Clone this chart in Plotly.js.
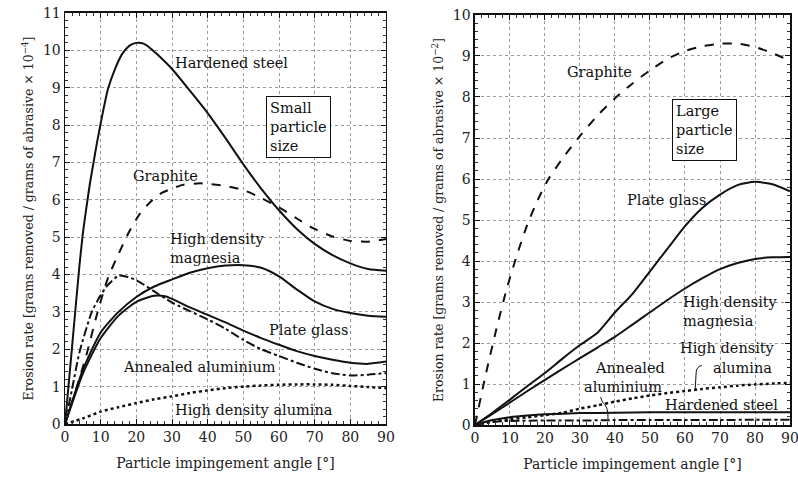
<!DOCTYPE html>
<html>
<head>
<meta charset="utf-8">
<script src="https://cdn.plot.ly/plotly-3.0.1.min.js"></script>
<style>html,body{margin:0;padding:0;background:#fff;}#chart{width:798px;height:479px;}</style>
</head>
<body>
<div id="chart"></div>
<script>
// ---- Left panel: small particle size (x10^-4) ----
const smallSteelX = [0,2,4,5,6,7,8,9,10,12,14,16,18,20,22,24,26,30,35,40,45,50,55,60,65,70,75,80,85,90];
const smallSteelY = [0,2.1,4.2,5.1,5.8,6.45,7.0,7.55,8.05,8.95,9.5,9.9,10.12,10.2,10.18,10.05,9.88,9.5,8.92,8.32,7.65,6.95,6.3,5.72,5.22,4.82,4.52,4.3,4.15,4.1];

const smallGraphiteX = [0,3,6,9,12,15,18,21,24,27,30,33,38,45,50,55,60,65,70,75,80,85,90];
const smallGraphiteY = [0,0.9,1.85,2.95,3.9,4.55,5.15,5.63,5.95,6.18,6.3,6.4,6.44,6.37,6.26,6.05,5.8,5.5,5.22,5.02,4.9,4.88,4.95];

const smallMagnesiaX = [0,5,10,15,20,25,30,35,40,45,50,55,60,65,70,75,80,85,90];
const smallMagnesiaY = [0,1.45,2.45,3.0,3.4,3.68,3.87,4.05,4.17,4.24,4.25,4.18,3.95,3.6,3.28,3.08,2.97,2.9,2.87];

const smallGlassX = [0,5,10,15,20,25,28,30,35,40,45,50,55,60,65,70,75,80,85,90];
const smallGlassY = [0,1.35,2.3,2.9,3.27,3.43,3.42,3.35,3.12,2.92,2.72,2.5,2.3,2.12,1.95,1.82,1.72,1.64,1.61,1.67];

const smallAluminiumX = [0,2,4,7.5,10,12,15,17,20,25,30,35,40,45,50,55,60,65,70,75,80,85,90];
const smallAluminiumY = [0,0.95,1.9,3.0,3.45,3.72,3.97,3.95,3.85,3.55,3.25,3.02,2.8,2.55,2.25,2.0,1.82,1.64,1.48,1.36,1.3,1.32,1.36];

const smallAluminaX = [0,5,10,15,20,25,30,35,40,45,50,55,60,65,70,75,80,85,90];
const smallAluminaY = [0,0.15,0.33,0.45,0.56,0.66,0.74,0.83,0.9,0.96,1.0,1.03,1.05,1.06,1.06,1.05,1.02,0.99,0.96];

// ---- Right panel: large particle size (x10^-2) ----
const largeGraphiteX = [0,3,6,9,12,15,18,21,25,30,35,40,45,50,55,60,65,70,75,80,85,90];
const largeGraphiteY = [0,1.2,2.3,3.3,4.15,4.9,5.5,6.0,6.5,7.05,7.55,7.97,8.33,8.65,8.93,9.12,9.24,9.3,9.3,9.22,9.07,8.88];

const largeGlassX = [0,5,10,15,20,25,30,35,40,45,50,55,60,65,70,75,80,85,90];
const largeGlassY = [0,0.3,0.62,0.95,1.27,1.62,1.95,2.25,2.75,3.2,3.75,4.3,4.85,5.3,5.62,5.85,5.93,5.87,5.7];

const largeMagnesiaX = [0,5,10,15,20,25,30,35,40,45,50,55,60,65,70,75,80,85,90];
const largeMagnesiaY = [0,0.27,0.55,0.83,1.1,1.37,1.63,1.89,2.15,2.45,2.75,3.05,3.33,3.58,3.8,3.95,4.05,4.09,4.1];

const largeAluminaX = [0,5,10,15,20,25,30,35,40,45,50,55,60,65,70,75,80,85,90];
const largeAluminaY = [0,0.08,0.14,0.19,0.24,0.3,0.4,0.48,0.57,0.65,0.72,0.78,0.83,0.88,0.92,0.96,0.99,1.01,1.03];

const largeSteelX = [0,5,10,15,20,30,40,50,60,70,80,90];
const largeSteelY = [0,0.12,0.19,0.23,0.26,0.29,0.3,0.31,0.31,0.31,0.31,0.31];

const largeAluminiumX = [0,5,10,20,30,40,50,60,70,80,90];
const largeAluminiumY = [0,0.08,0.1,0.11,0.11,0.12,0.12,0.12,0.12,0.13,0.13];

const xTicks = [0,10,20,30,40,50,60,70,80,90];

const FONT = '"DejaVu Serif", "Liberation Serif", serif';

function tr(x, y, dash, xa, ya, w) {
  return {x: x, y: y, xaxis: xa, yaxis: ya, type: 'scatter', mode: 'lines',
    line: {color: '#111', width: w || 2, dash: dash, shape: 'spline', smoothing: 0.6},
    showlegend: false, hoverinfo: 'skip'};
}

const data = [
  tr(smallSteelX, smallSteelY, 'solid', 'x', 'y'),
  tr(smallGraphiteX, smallGraphiteY, 'dash', 'x', 'y'),
  tr(smallMagnesiaX, smallMagnesiaY, 'solid', 'x', 'y'),
  tr(smallGlassX, smallGlassY, 'solid', 'x', 'y'),
  tr(smallAluminiumX, smallAluminiumY, 'dashdot', 'x', 'y'),
  tr(smallAluminaX, smallAluminaY, 'dot', 'x', 'y', 2.5),
  tr(largeGraphiteX, largeGraphiteY, 'dash', 'x2', 'y2'),
  tr(largeGlassX, largeGlassY, 'solid', 'x2', 'y2'),
  tr(largeMagnesiaX, largeMagnesiaY, 'solid', 'x2', 'y2'),
  tr(largeAluminaX, largeAluminaY, 'dot', 'x2', 'y2', 2.5),
  tr(largeSteelX, largeSteelY, 'solid', 'x2', 'y2'),
  tr(largeAluminiumX, largeAluminiumY, 'dashdot', 'x2', 'y2')
];

function xaxis(domain, anchor) {
  return {domain: domain, anchor: anchor, range: [0, 90], tickvals: xTicks,
    ticks: 'inside', ticklen: 5, tickwidth: 1, tickcolor: '#111',
    ticklabeloverflow: 'allow',
    minor: {dtick: 2, ticks: 'inside', ticklen: 3, tickcolor: '#333', showgrid: false},
    showline: true, linecolor: '#111', linewidth: 1.5, mirror: 'ticks',
    showgrid: true, gridcolor: '#9a9a9a', griddash: 'dot', gridwidth: 1,
    zeroline: false, tickfont: {family: FONT, size: 14, color: '#222'},
    title: {text: 'Particle impingement angle [°]', font: {family: FONT, size: 14, color: '#222'}, standoff: 14}};
}
function yaxis(domain, anchor, max, title) {
  return {domain: domain, anchor: anchor, range: [0, max], dtick: 1,
    ticks: 'inside', ticklen: 5, tickwidth: 1, tickcolor: '#111',
    ticklabeloverflow: 'allow',
    minor: {dtick: 0.2, ticks: 'inside', ticklen: 3, tickcolor: '#333', showgrid: false},
    showline: true, linecolor: '#111', linewidth: 1.5, mirror: 'ticks',
    showgrid: true, gridcolor: '#9a9a9a', griddash: 'dot', gridwidth: 1,
    zeroline: false, tickfont: {family: FONT, size: 14, color: '#222'},
    title: {text: title, font: {family: FONT, size: 12.5, color: '#222'}, standoff: 6}};
}

function ann(x, y, text, xref, yref, extra) {
  return Object.assign({x: x, y: y, xref: xref, yref: yref, text: text, showarrow: false,
    font: {family: FONT, size: 14.5, color: '#111'}, xanchor: 'center', yanchor: 'middle'}, extra || {});
}

const annotations = [
  ann(46.6, 9.65, 'Hardened steel', 'x', 'y'),
  ann(65.5, 7.94, 'Small<br>particle<br>size', 'x', 'y', {align: 'left', bordercolor: '#111', borderwidth: 1, borderpad: 3, bgcolor: '#fff'}),
  ann(28.1, 6.63, 'Graphite', 'x', 'y'),
  ann(42.7, 4.69, 'High density<br>magnesia', 'x', 'y', {align: 'left'}),
  ann(68.3, 2.51, 'Plate glass', 'x', 'y'),
  ann(37.8, 1.52, 'Annealed aluminium', 'x', 'y'),
  ann(53, 0.37, 'High density alumina', 'x', 'y'),

  ann(35.7, 8.6, 'Graphite', 'x2', 'y2'),
  ann(65.7, 7.2, 'Large<br>particle<br>size', 'x2', 'y2', {align: 'left', bordercolor: '#111', borderwidth: 1, borderpad: 3, bgcolor: '#fff'}),
  ann(54.9, 5.5, 'Plate glass', 'x2', 'y2'),
  ann(72.9, 2.78, 'High density<br>magnesia', 'x2', 'y2', {align: 'left'}),
  ann(72, 1.88, 'High density', 'x2', 'y2'),
  ann(76.5, 1.39, 'alumina', 'x2', 'y2'),
  ann(44.3, 1.39, 'Annealed', 'x2', 'y2'),
  ann(42.4, 0.93, 'aluminium', 'x2', 'y2'),
  ann(70.5, 0.49, 'Hardened steel', 'x2', 'y2')
];

const shapes = [
  {type: 'path', xref: 'x2', yref: 'y2', path: 'M 62.9,0.86 L 63.2,1.3 Q 63.5,1.44 64.8,1.45', line: {color: '#111', width: 1}},
  {type: 'path', xref: 'x2', yref: 'y2', path: 'M 38,0.14 Q 38.2,0.45 36.4,0.56 L 35.9,0.68', line: {color: '#111', width: 1}}
];

const layout = {
  width: 798, height: 479,
  margin: {l: 0, r: 0, t: 0, b: 0},
  paper_bgcolor: '#fff', plot_bgcolor: '#fff',
  xaxis: xaxis([0.0815, 0.4837], 'y'),
  yaxis: yaxis([0.1148, 0.9729], 'x', 11, 'Erosion rate [grams removed / grams of abrasive × 10<sup>−4</sup>]'),
  xaxis2: xaxis([0.5952, 0.99], 'y2'),
  yaxis2: yaxis([0.1127, 0.9687], 'x2', 10, 'Erosion rate [grams removed / grams of abrasive × 10<sup>−2</sup>]'),
  annotations: annotations,
  shapes: shapes,
  showlegend: false
};

Plotly.newPlot('chart', data, layout, {displayModeBar: false, staticPlot: true});
</script>
</body>
</html>
